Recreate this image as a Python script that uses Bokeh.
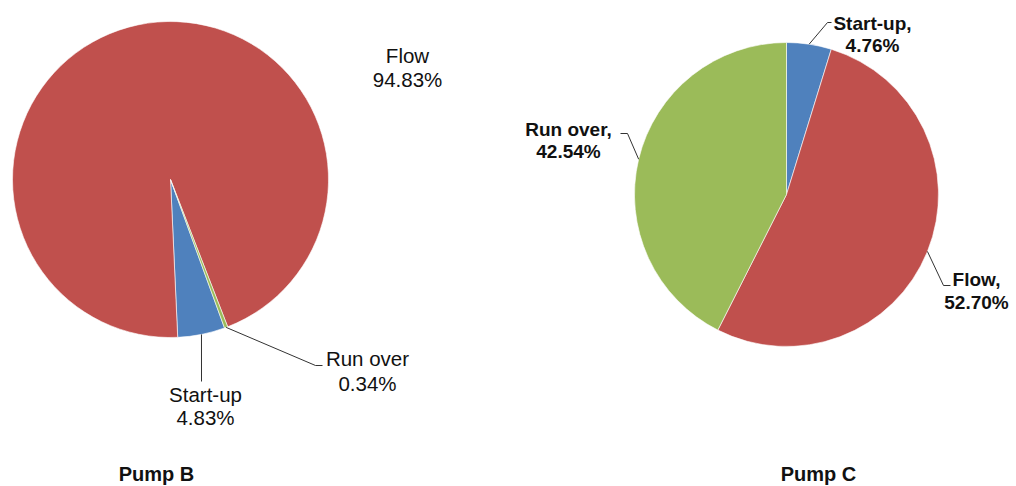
import math
from bokeh.plotting import figure
from bokeh.models import Range1d, ColumnDataSource
from bokeh.core.properties import value
from bokeh.embed import file_html
from bokeh.resources import INLINE

# --- data -------------------------------------------------------------
categories = ["Start-up", "Flow", "Run over"]
pump_b = [4.83, 94.83, 0.34]
pump_c = [4.76, 52.70, 42.54]
slice_colors = ["#4F81BD", "#C0504D", "#9BBB59"]

W, H = 1016, 486

p = figure(width=W, height=H, x_range=Range1d(0, W), y_range=Range1d(0, H),
           output_backend="svg", toolbar_location=None, min_border=0,
           background_fill_color="white", border_fill_color="white")
p.axis.visible = False
p.grid.visible = False
p.outline_line_color = None


def fy(y):
    # page-style y (down from top) to plot y
    return H - y


def draw_pie(values, cx, cy, r, first_angle):
    """Slices run clockwise from 12 o'clock, rotated by first_angle (degrees)."""
    total = sum(values)
    starts, ends, mids = [], [], []
    acc = first_angle
    for v in values:
        sweep = v / total * 360.0
        starts.append(acc)
        ends.append(acc + sweep)
        mids.append(acc + sweep / 2)
        acc += sweep
    src = ColumnDataSource(dict(
        start=[math.radians(90 - e) for e in ends],
        end=[math.radians(90 - s) for s in starts],
        color=slice_colors,
    ))
    p.wedge(x=cx, y=fy(cy), radius=r, start_angle="start", end_angle="end",
            direction="anticlock", fill_color="color", line_color="white",
            line_width=0.6, source=src)
    # anchor point on the rim for each slice
    return [(cx + r * math.sin(math.radians(m)), fy(cy) + r * math.cos(math.radians(m)))
            for m in mids]


def fmt(v):
    return f"{v:.2f}%"


def label(x, y1, y2, line1, line2, bold):
    style = "bold" if bold else "normal"
    size = "19px" if bold else "20.5px"
    p.text(x=[x, x], y=[fy(y1), fy(y2)], text=[line1, line2],
           text_font=value("Liberation Sans"), text_font_size=size,
           text_font_style=style, text_align="center", text_baseline="middle",
           text_color="#111111")


def leader(anchor, pts):
    xs = [anchor[0]] + [q[0] for q in pts]
    ys = [anchor[1]] + [fy(q[1]) for q in pts]
    p.line(xs, ys, line_color="#333333", line_width=1)


# --- Pump B -------------------------------------------------------------
ab = draw_pie(pump_b, 170, 179, 158, 160)
leader(ab[0], [(201, 381)])
leader(ab[2], [(315, 365), (322, 365)])
label(205, 394, 417, categories[0], fmt(pump_b[0]), False)
label(407, 55, 79, categories[1], fmt(pump_b[1]), False)
label(367, 358, 383, categories[2], fmt(pump_b[2]), False)

# --- Pump C -------------------------------------------------------------
ac = draw_pie(pump_c, 786, 194, 152, 0)
leader(ac[0], [(827, 22), (831, 22)])
leader(ac[1], [(943, 285), (950, 285)])
leader(ac[2], [(627, 133), (620, 133)])
label(872, 23, 45, categories[0] + ",", fmt(pump_c[0]), True)
label(976, 279, 302, categories[1] + ",", fmt(pump_c[1]), True)
label(568, 129, 151, categories[2] + ",", fmt(pump_c[2]), True)

# --- titles -------------------------------------------------------------
p.text(x=[156, 818], y=[fy(473), fy(473)], text=["Pump B", "Pump C"],
       text_font=value("Liberation Sans"), text_font_size="20px",
       text_font_style="bold", text_align="center", text_baseline="middle",
       text_color="#111111")

open("out.html", "w").write(file_html(p, INLINE))
